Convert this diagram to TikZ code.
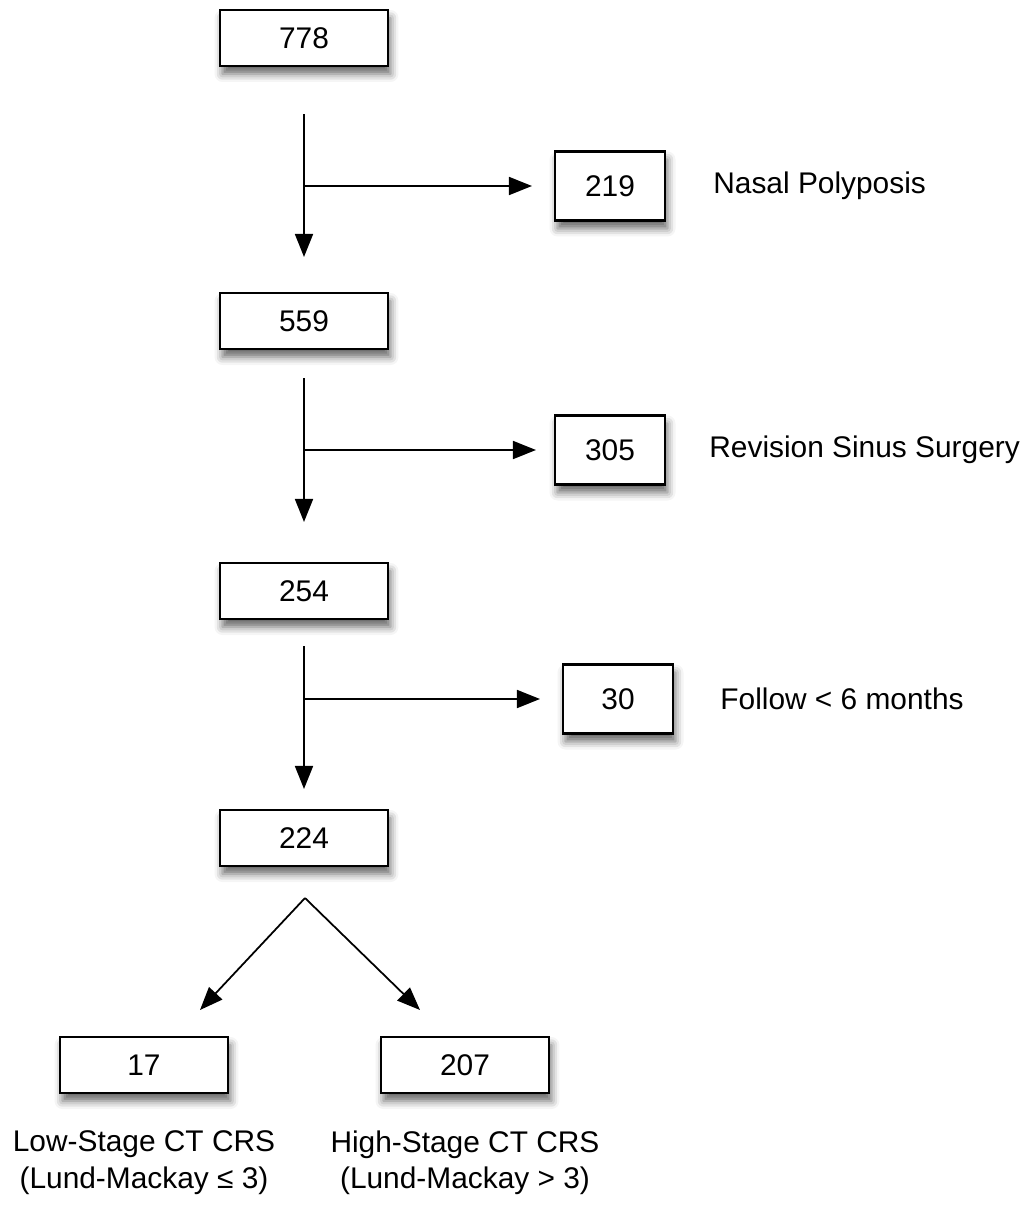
\documentclass[tikz,border=0pt]{standalone}
\usepackage{fontspec}
\setmainfont{Liberation Sans}
\usetikzlibrary{positioning,arrows.meta,shadows.blur}

\begin{document}
\begin{tikzpicture}[x=0.02cm, y=-0.02cm,
    font=\fontsize{17}{21}\selectfont,
    box/.style={draw, line width=1.2pt, fill=white, inner sep=0pt,
        minimum width=3.36cm, minimum height=1.12cm,
        blur shadow={shadow xshift=0.05cm, shadow yshift=-0.16cm,
            shadow blur radius=0.16cm, shadow opacity=60}},
    sidebox/.style={box, minimum width=2.2cm, minimum height=1.38cm},
    flow/.style={line width=1pt, -{Triangle[length=0.46cm, width=0.36cm]}},
    note/.style={inner sep=0pt}]
    \useasboundingbox (0,0) rectangle (1030,1207);

    % main column
    \node[box] (n778) at (304,38) {778};
    \node[box] (n559) at (304,321) {559};
    \node[box] (n254) at (304,591) {254};
    \node[box] (n224) at (304,838) {224};

    % excluded
    \node[sidebox] (n219) at (610,186) {219};
    \node[sidebox] (n305) at (610,450) {305};
    \node[sidebox] (n30) at (618,699) {30};
    \node[note, right=0.94cm of n219] (nasal) {Nasal Polyposis};
    \node[note, right=0.86cm of n305] (revision) {Revision Sinus Surgery};
    \node[note, right=0.92cm of n30] (follow) {Follow < 6 months};

    % CT stage
    \node[box] (n17) at (144,1065) {17};
    \node[box] (n207) at (465,1065) {207};
    \node[note, align=center, below=0.72cm of n17] (low)
        {Low-Stage CT CRS\\(Lund-Mackay ≤ 3)};
    \node[note, align=center, below=0.72cm of n207] (high)
        {High-Stage CT CRS\\(Lund-Mackay > 3)};

    % arrows down
    \draw[flow, shorten <=0.94cm, shorten >=0.7cm] (n778) -- (n559);
    \draw[flow, shorten <=0.56cm, shorten >=0.8cm] (n559) -- (n254);
    \draw[flow, shorten <=0.52cm, shorten >=0.4cm] (n254) -- (n224);

    % arrows out
    \coordinate (b1) at (n778 |- n219);
    \coordinate (b2) at (n559 |- n305);
    \coordinate (b3) at (n254 |- n30);
    \draw[flow, shorten >=0.44cm] (b1) -- (n219);
    \draw[flow, shorten >=0.36cm] (b2) -- (n305);
    \draw[flow, shorten >=0.44cm] (b3) -- (n30);

    % split
    \coordinate (apex) at (305,898);
    \coordinate (tipL) at (200,1010);
    \coordinate (tipR) at (420,1010);
    \draw[flow] (apex) -- (tipL);
    \draw[flow] (apex) -- (tipR);
\end{tikzpicture}
\end{document}
